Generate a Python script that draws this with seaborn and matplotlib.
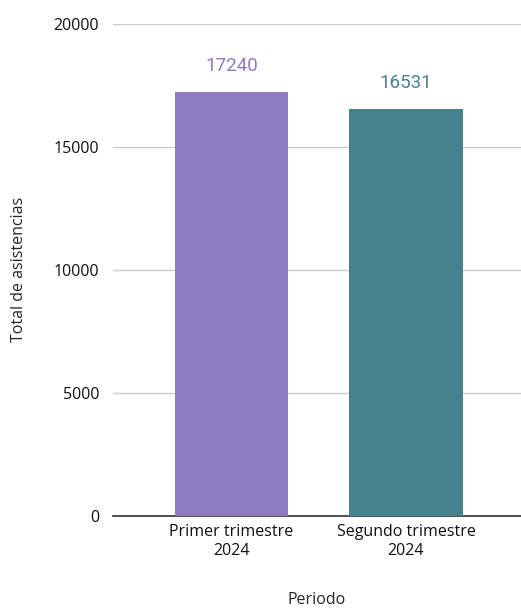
import matplotlib
matplotlib.use("Agg")
import matplotlib.pyplot as plt
import seaborn as sns
import pandas as pd

# data
periodos = ["Primer trimestre\n2024", "Segundo trimestre\n2024"]
asistencias = [17240, 16531]
colores = ["#8e7cc3", "#45818e"]
yticks = [0, 5000, 10000, 15000, 20000]

df = pd.DataFrame({"Periodo": periodos, "Total": asistencias})

sns.set_style("white")
plt.rcParams["font.family"] = ["Open Sans", "DejaVu Sans"]

fig = plt.figure(figsize=(5.21, 6.09), dpi=100)
ax = fig.add_axes([0.217, 0.153, 0.783, 0.808])

sns.barplot(data=df, x="Periodo", y="Total", hue="Periodo", palette=colores,
            width=0.65, legend=False, ax=ax, saturation=1, zorder=3,
            linewidth=0)

# value labels above bars
for i, v in enumerate(asistencias):
    ax.annotate(str(v), (i, v), xytext=(0, 12), textcoords="offset points",
                ha="center", va="bottom", fontsize=13.5, color=colores[i],
                family="Roboto")

ax.set_ylim(0, 20000)
ax.set_yticks(yticks)
ax.set_xlim(-0.68, 1.66)
ax.grid(axis="y", color="#cccccc", linewidth=1, zorder=0)
for s in ["top", "right", "left"]:
    ax.spines[s].set_visible(False)
ax.spines["bottom"].set_color("#333333")
ax.spines["bottom"].set_linewidth(1.2)
ax.tick_params(axis="both", length=0, labelsize=11.5, colors="#111111")
ax.tick_params(axis="y", pad=10)
ax.tick_params(axis="x", pad=6)

ax.set_ylabel("Total de asistencias", fontsize=11.5)
ax.set_xlabel("Periodo", fontsize=11.5, labelpad=24)
ax.yaxis.set_label_coords(-0.21, 0.5)

fig.savefig("out.png", dpi=100)
